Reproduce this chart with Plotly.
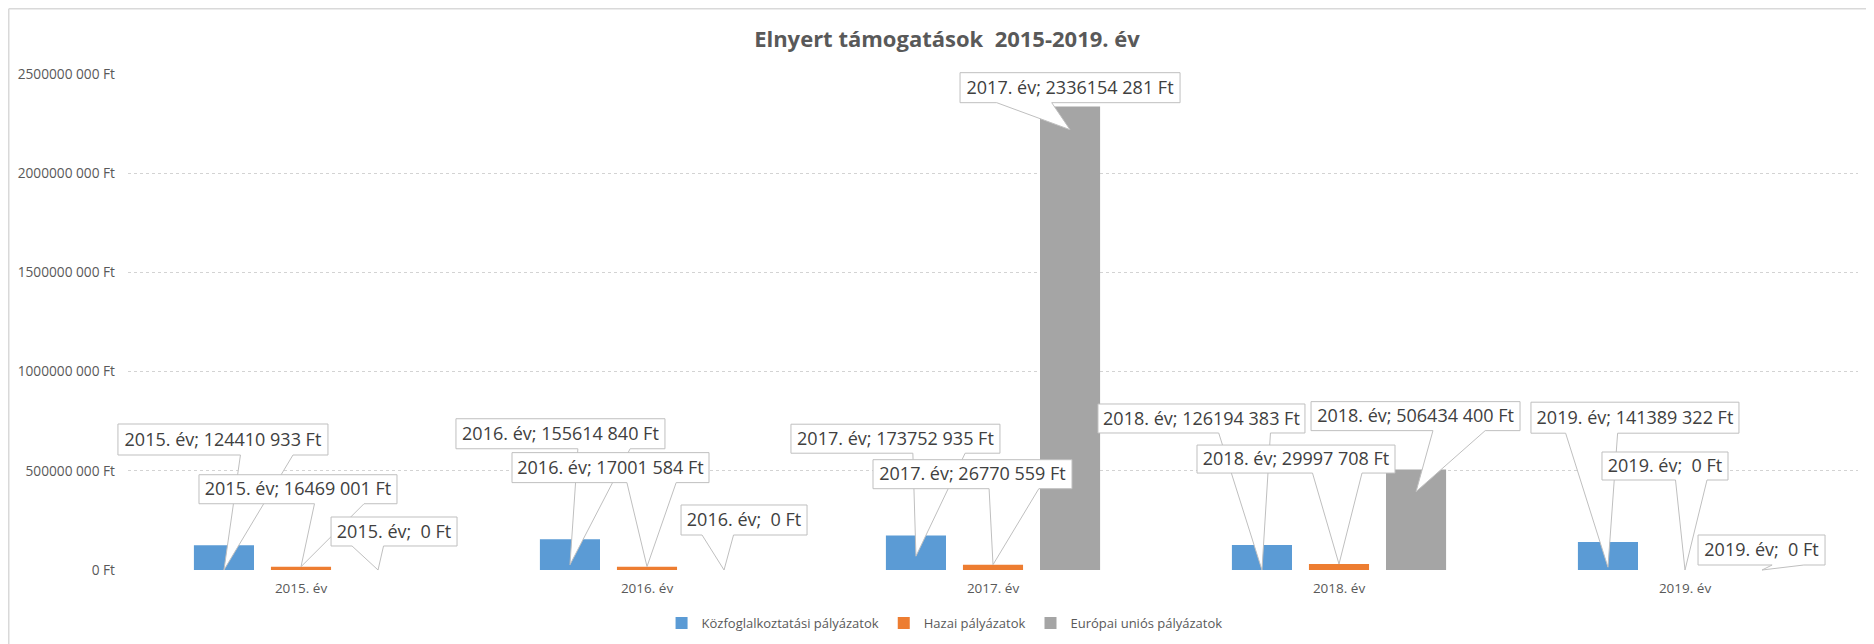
import plotly.graph_objects as go

# ---------------- data ----------------
years = ["2015. év", "2016. év", "2017. év", "2018. év", "2019. év"]
series_names = ["Közfoglalkoztatási pályázatok", "Hazai pályázatok", "Európai uniós pályázatok"]
kozfoglalkoztatasi = [124410933, 155614840, 173752935, 126194383, 141389322]
hazai = [16469001, 17001584, 26770559, 29997708, 0]
europai_unios = [0, 0, 2336154281, 506434400, 0]
y_tickvals = [0, 500000000, 1000000000, 1500000000, 2000000000, 2500000000]
y_ticktext = ["0 Ft", "500000 000 Ft", "1000000 000 Ft", "1500000 000 Ft",
              "2000000 000 Ft", "2500000 000 Ft"]
title_text = "Elnyert támogatások  2015-2019. év"

# ---------------- style / layout config ----------------
# page body has an 8px margin, so the figure is 8px smaller than the window
W, H = 1866, 636
ML, MR, MT, MB = 120, 16, 66, 74
PW, PH = W - ML - MR, H - MT - MB
Y_MAX = 2500000000
colors = ["#5B9BD5", "#ED7D31", "#A5A5A5"]
BARGAP = 0.332
BARGROUPGAP = 0.22
# where along each bar the callout pointer lands (fraction of bar value)
tip_frac = [
    [0.0, 0.17, 0.4, 0.0, 0.1],
    [1.0, 1.0, 1.0, 1.0, 1.0],
    [0.0, 0.0, 0.95, 0.78, 0.0],
]
# callout boxes: pixel offsets relative to pointer tip (x0, x1, y0, y1), y up
boxes = [
    [(-106, 104, 115, 146), (-114, 95, 116, 146), (-125, 84, 103, 132),
     (-164, 43, 137, 166), (-77, 131, 134, 165)],
    [(-102, 96, 63, 92), (-135, 62, 84, 114), (-120, 79, 76, 105),
     (-142, 56, 91, 119), (-83, 43, 90, 118)],
    [(-47, 79, 24, 53), (-43, 83, 35, 65), (-110, 110, 27, 57),
     (-105, 104, 61, 90), (-64, 63, 5, 35)],
]

FONT = "Open Sans"
TXT = "#595959"


def fmt_ft(v):
    s = str(int(v))
    if len(s) > 3:
        return s[:-3] + " " + s[-3:]
    return " " + s


def callout_pts(bx0, bx1, by0, by1):
    # Office "wedgeRectCallout" geometry, tip at (0,0); computed in y-down pixels
    l, r = bx0, bx1
    t, b = -by1, -by0
    w, h = r - l, b - t
    hc, vc = (l + r) / 2, (t + b) / 2
    dxp, dyp = -hc, -vc
    dq = dxp * h / w
    dz = abs(dyp) - abs(dq)
    xg1, xg2 = (7, 10) if dxp > 0 else (2, 5)
    yg1, yg2 = (7, 10) if dyp > 0 else (2, 5)
    x1, x2 = l + w * xg1 / 12, l + w * xg2 / 12
    y1, y2 = t + h * yg1 / 12, t + h * yg2 / 12
    pts = [(l, t)]
    if dz > 0 and dyp <= 0:
        pts += [(x1, t), (0, 0), (x2, t)]
    pts += [(r, t)]
    if dz <= 0 and dxp > 0:
        pts += [(r, y1), (0, 0), (r, y2)]
    pts += [(r, b)]
    if dz > 0 and dyp > 0:
        pts += [(x2, b), (0, 0), (x1, b)]
    pts += [(l, b)]
    if dz <= 0 and dxp <= 0:
        pts += [(l, y2), (0, 0), (l, y1)]
    return [(x, -y) for x, y in pts]  # back to y-up


xs = list(range(len(years)))
X_RANGE = [-0.5, len(years) - 0.5]
series_values = [kozfoglalkoztatasi, hazai, europai_unios]

fig = go.Figure()
for name, vals, col in zip(series_names, series_values, colors):
    fig.add_trace(go.Bar(x=xs, y=vals, name=name, marker=dict(color=col, line=dict(width=0))))


def x_to_paper(x):
    return (x - X_RANGE[0]) / (X_RANGE[1] - X_RANGE[0])


def y_to_paper(y):
    return y / Y_MAX


# chart-area border (left and top edges visible in the crop)
edge_x = (-ML + 0.75) / PW
edge_y = (PH + MT - 0.75) / PH
shapes = [
    dict(type="line", xref="paper", yref="paper", x0=edge_x, x1=edge_x, y0=-0.3, y1=edge_y,
         line=dict(color="#D9D9D9", width=1.5), layer="below"),
    dict(type="line", xref="paper", yref="paper", x0=edge_x, x1=1.2, y0=edge_y, y1=edge_y,
         line=dict(color="#D9D9D9", width=1.5), layer="below"),
]
slot = (1 - BARGAP) / len(series_values)
for si, vals in enumerate(series_values):
    offset = -(1 - BARGAP) / 2 + slot * (si + 0.5)
    for yi, v in enumerate(vals):
        tx = x_to_paper(xs[yi] + offset)
        ty = y_to_paper(v * tip_frac[si][yi])
        bx0, bx1, by0, by1 = boxes[si][yi]
        pts = callout_pts(bx0, bx1, by0, by1)
        path = "M" + " L".join(f"{tx + px / PW:.5f},{ty + py / PH:.5f}" for px, py in pts) + " Z"
        txt = f"{years[yi]}; {fmt_ft(v)} Ft"
        shapes.append(dict(type="path", xref="paper", yref="paper", path=path,
                           fillcolor="white", line=dict(color="#BFBFBF", width=1), layer="above"))
        shapes.append(dict(type="rect", xref="paper", yref="paper",
                           x0=tx + bx0 / PW, x1=tx + bx1 / PW, y0=ty + by0 / PH, y1=ty + by1 / PH,
                           fillcolor="rgba(0,0,0,0)", line=dict(width=0), layer="above",
                           label=dict(text=txt, textposition="middle center",
                                      font=dict(family=FONT, size=18, color="#404040"))))

fig.update_layout(
    width=W, height=H,
    margin=dict(l=ML, r=MR, t=MT, b=MB, autoexpand=False),
    paper_bgcolor="white", plot_bgcolor="white",
    barmode="group", bargap=BARGAP, bargroupgap=BARGROUPGAP,
    title=dict(text=title_text, x=939 / W, xanchor="center", xref="container",
               y=1 - 31 / H, yanchor="middle", yref="container",
               font=dict(family=FONT, size=22, color=TXT, weight="bold")),
    xaxis=dict(tickvals=xs, ticktext=years, range=X_RANGE,
               showgrid=False, zeroline=False, showline=False, ticks="",
               tickfont=dict(family=FONT, size=13.5, color=TXT), ticklabelstandoff=8),
    yaxis=dict(range=[0, Y_MAX], tickvals=y_tickvals, ticktext=y_ticktext,
               showgrid=True, gridcolor="#D3D3D3", griddash="dot", gridwidth=1,
               zeroline=False, showline=False, ticks="",
               tickfont=dict(family=FONT, size=13.7, color=TXT), ticklabelstandoff=12),
    legend=dict(orientation="h", x=0.472, xanchor="center", y=-0.107, yanchor="middle",
                font=dict(family=FONT, size=13, color=TXT), traceorder="normal",
                itemwidth=30),
    showlegend=True,
    shapes=shapes,
)

fig.write_html("out.html")
